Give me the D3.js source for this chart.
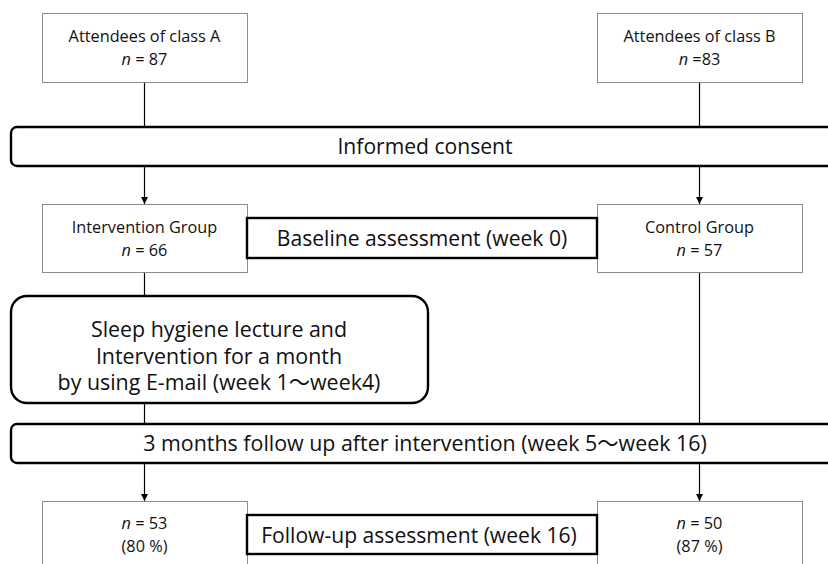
<!DOCTYPE html>
<html>
<head>
<meta charset="utf-8">
<script src="https://cdn.jsdelivr.net/npm/d3@7"></script>
<style>
  body { margin: 0; background: #fff; }
  svg text { font-family: "Open Sans", "Noto Sans CJK JP", sans-serif; fill: #111; font-variant-ligatures: none; }
</style>
</head>
<body>
<svg id="chart"></svg>
<script>
// text content of the flow
var classNames  = ["Attendees of class A", "Attendees of class B"];
var classN      = [" = 87", " =83"];
var groupNames  = ["Intervention Group", "Control Group"];
var groupN      = [" = 66", " = 57"];
var followN     = [" = 53", " = 50"];
var followPct   = ["(80 %)", "(87 %)"];
var consentText = "Informed consent";
var baselineText = "Baseline assessment (week 0)";
var lectureText = ["Sleep hygiene lecture and", "Intervention for a month", "by using E-mail (week 1\u301Cweek4)"];
var followUpText = "3 months follow up after intervention (week 5\u301Cweek 16)";
var followAssessText = "Follow-up assessment (week 16)";

var W = 828, H = 564;
var svg = d3.select("#chart").attr("width", W).attr("height", H);

// two columns: left = class A / intervention, right = class B / control
var col = d3.scaleOrdinal().domain([0, 1]).range([42, 597]);
var boxW = 205, boxH = 69;
var cx = function(i){ return col(i) + boxW / 2; };

// rows (y of box tops)
var row = {cls: 13, consent: 127, grp: 204, lecture: 296, follow: 424, end: 501};

svg.append("defs").append("marker")
  .attr("id", "arr").attr("viewBox", "0 0 10 10")
  .attr("refX", 10).attr("refY", 5)
  .attr("markerWidth", 7).attr("markerHeight", 8)
  .attr("markerUnits", "userSpaceOnUse")
  .attr("orient", "auto")
  .append("path").attr("d", "M0,0L10,5L0,10z").attr("fill", "#000");

function line(x, y1, y2, arrow) {
  var l = svg.append("line")
    .attr("x1", x).attr("x2", x).attr("y1", y1).attr("y2", y2)
    .attr("stroke", "#000").attr("stroke-width", 1.2);
  if (arrow) l.attr("marker-end", "url(#arr)");
}

// connectors
[0, 1].forEach(function(i){
  line(cx(i), row.cls + boxH, row.consent);
  line(cx(i), row.consent + 39, row.grp, true);
  line(cx(i), row.follow + 39, row.end, true);
});
line(cx(0), row.grp + boxH, row.lecture);
line(cx(0), 403, row.follow);
line(cx(1), row.grp + boxH, row.follow);

function nLabel(g, x, y, rest, size) {
  var t = g.append("text").attr("x", x).attr("y", y)
    .attr("text-anchor", "middle").attr("font-size", size);
  t.append("tspan").attr("font-style", "italic").text("n");
  t.append("tspan").text(rest);
}

function thinBox(i, top, h) {
  svg.append("rect")
    .attr("x", col(i) + 0.5).attr("y", top + 0.5)
    .attr("width", boxW).attr("height", h)
    .attr("fill", "#fff").attr("stroke", "#8c8c8c").attr("stroke-width", 1);
}

var small = 16.3, big = 21.1;

// class boxes
[0, 1].forEach(function(i){
  thinBox(i, row.cls, boxH);
  svg.append("text").attr("x", cx(i)).attr("y", row.cls + 29)
    .attr("text-anchor", "middle").attr("font-size", small).text(classNames[i]);
  nLabel(svg, cx(i), row.cls + 52, classN[i], small);
});

// group boxes
[0, 1].forEach(function(i){
  thinBox(i, row.grp, boxH - 1);
  svg.append("text").attr("x", cx(i)).attr("y", row.grp + 29)
    .attr("text-anchor", "middle").attr("font-size", small).text(groupNames[i]);
  nLabel(svg, cx(i), row.grp + 52, groupN[i], small);
});

// final boxes (run off bottom)
[0, 1].forEach(function(i){
  thinBox(i, row.end, 80);
  nLabel(svg, cx(i), row.end + 28, followN[i], small);
  svg.append("text").attr("x", cx(i)).attr("y", row.end + 51)
    .attr("text-anchor", "middle").attr("font-size", small).text(followPct[i]);
});

function thickBox(x, y, w, h, r) {
  svg.append("rect")
    .attr("x", x).attr("y", y).attr("width", w).attr("height", h)
    .attr("rx", r).attr("ry", r)
    .attr("fill", "#fff").attr("stroke", "#000").attr("stroke-width", 2.4);
}

// wide bands
thickBox(11, row.consent, 840, 39, 6);
svg.append("text").attr("x", 425).attr("y", row.consent + 27)
  .attr("text-anchor", "middle").attr("font-size", big).text(consentText);

thickBox(11, row.follow, 840, 39, 6);
svg.append("text").attr("x", 425).attr("y", row.follow + 27)
  .attr("text-anchor", "middle").attr("font-size", big + 0.3).text(followUpText);

// lecture box
thickBox(11, row.lecture, 417, 107, 16);
svg.append("g").selectAll("text").data(lectureText).join("text")
  .attr("x", 219).attr("y", function(d, i){ return row.lecture + 41 + i * 26.5; })
  .attr("text-anchor", "middle").attr("font-size", 21.4).text(function(d){ return d; });

// assessment boxes between columns
thickBox(col(0) + boxW, 218, col(1) - col(0) - boxW, 40, 0);
svg.append("text").attr("x", 422).attr("y", 218 + 28)
  .attr("text-anchor", "middle").attr("font-size", big).text(baselineText);

thickBox(col(0) + boxW, 515, col(1) - col(0) - boxW, 39, 0);
svg.append("text").attr("x", 419).attr("y", 515 + 28)
  .attr("text-anchor", "middle").attr("font-size", big).text(followAssessText);
</script>
</body>
</html>
